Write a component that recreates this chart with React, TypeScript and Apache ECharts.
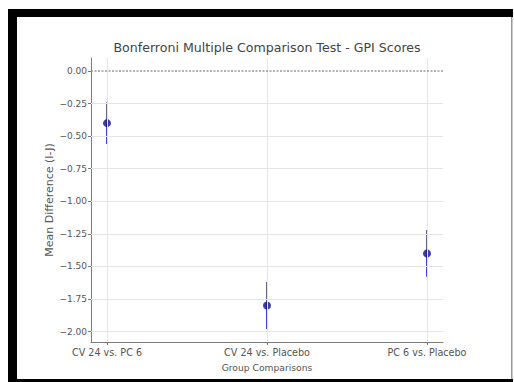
import React, { useEffect, useRef } from "react";
import * as echarts from "echarts";

const categories = ["CV 24 vs. PC 6", "CV 24 vs. Placebo", "PC 6 vs. Placebo"];
const meanDiff = [-0.4, -1.8, -1.4];
const lowerCI = [-0.56, -1.98, -1.58];
const upperCI = [-0.24, -1.62, -1.22];
const yTicks = [0, -0.25, -0.5, -0.75, -1.0, -1.25, -1.5, -1.75, -2.0];
const xTicks = [0, 1, 2];

const FONT = "DejaVu Sans";

export default function App() {
  const ref = useRef<HTMLDivElement>(null);
  useEffect(() => {
    if (!ref.current) return;
    const chart = echarts.init(ref.current, undefined, { renderer: "svg" });
    const fmtY = (v: number) => (Math.abs(v) < 1e-9 ? "0.00" : v.toFixed(2).replace("-", "\u2212"));
    const gridLines: any[] = [];
    yTicks.forEach((v) => {
      if (v !== 0) gridLines.push({ yAxis: v, lineStyle: { color: "#e6e6e6", width: 1, type: "solid" } });
    });
    xTicks.forEach((v) => gridLines.push({ xAxis: v, lineStyle: { color: "#e6e6e6", width: 1, type: "solid" } }));

    const option: any = {
      animation: false,
      backgroundColor: "#ffffff",
      grid: { left: 91, right: 71, top: 58, bottom: 40 },
      xAxis: {
        type: "value",
        min: -0.1,
        max: 2.1,
        splitLine: { show: false },
        axisLine: { show: true, onZero: false, lineStyle: { color: "#7a7a7a", width: 1 } },
        axisTick: { show: true, customValues: xTicks, length: 3, lineStyle: { color: "#7a7a7a" } },
        axisLabel: {
          customValues: xTicks,
          formatter: (v: number) => categories[Math.round(v)],
          fontFamily: FONT,
          fontSize: 9.6,
          color: "#555",
          margin: 5,
        },
        name: "Group Comparisons",
        nameLocation: "middle",
        nameGap: 21,
        nameTextStyle: { fontFamily: FONT, fontSize: 9.2, color: "#555" },
      },
      yAxis: {
        type: "value",
        min: -2.08,
        max: 0.1,
        splitLine: { show: false },
        axisLine: { show: true, onZero: false, lineStyle: { color: "#7a7a7a", width: 1 } },
        axisTick: { show: true, customValues: yTicks, length: 3, lineStyle: { color: "#7a7a7a" } },
        axisLabel: {
          customValues: yTicks,
          formatter: fmtY,
          fontFamily: FONT,
          fontSize: 9,
          color: "#555",
          margin: 4,
        },
        name: "Mean Difference (I-J)",
        nameLocation: "middle",
        nameGap: 36,
        nameMoveOverlap: false,
        nameTextStyle: { fontFamily: FONT, fontSize: 11, color: "#555" },
      },
      graphic: [
        { type: "rect", shape: { x: 8, y: 9, width: 9, height: 373 }, style: { fill: "#000" } },
        { type: "rect", shape: { x: 8, y: 9, width: 505, height: 8 }, style: { fill: "#000" } },
        { type: "rect", shape: { x: 8, y: 379, width: 505, height: 3 }, style: { fill: "#000" } },
        { type: "rect", shape: { x: 511, y: 17, width: 1.5, height: 362 }, style: { fill: "#999" } },
        {
          type: "text",
          x: 267,
          y: 47,
          style: {
            text: "Bonferroni Multiple Comparison Test - GPI Scores",
            fontFamily: FONT,
            fontSize: 12.6,
            fill: "#444",
            textAlign: "center",
            textVerticalAlign: "middle",
          },
        },
      ],
      series: [
        {
          type: "line",
          data: [],
          z: 1,
          silent: true,
          markLine: {
            silent: true,
            symbol: "none",
            label: { show: false },
            data: gridLines,
          },
        },
        {
          type: "line",
          data: [],
          z: 2,
          silent: true,
          markLine: {
            silent: true,
            symbol: "none",
            label: { show: false },
            data: [{ yAxis: 0, lineStyle: { color: "#9a9a9a", width: 1.5, type: [2, 1.5] } }],
          },
        },
        {
          type: "custom",
          z: 3,
          data: categories.map((_, i) => [i, lowerCI[i], upperCI[i], meanDiff[i]]),
          renderItem: (params: any, api: any) => {
            const x = api.value(0);
            const pLo = api.coord([x, api.value(1)]);
            const pHi = api.coord([x, api.value(2)]);
            const pM = api.coord([x, api.value(3)]);
            return {
              type: "group",
              children: [
                { type: "line", shape: { x1: pHi[0], y1: pHi[1], x2: pM[0], y2: pM[1] }, style: { stroke: "#55557a", lineWidth: 1.8 } },
                { type: "line", shape: { x1: pM[0], y1: pM[1], x2: pLo[0], y2: pLo[1] }, style: { stroke: "#2b2be0", lineWidth: 1.8 } },
              ],
            };
          },
        },
        {
          type: "scatter",
          z: 4,
          symbol: "circle",
          symbolSize: 8,
          itemStyle: { color: "#0c0c8c" },
          data: categories.map((_, i) => [i, meanDiff[i]]),
        },
      ],
    };
    chart.setOption(option);
    return () => chart.dispose();
  }, []);
  return (
    <div
      ref={ref}
      style={{ position: "fixed", left: 0, top: 0, width: 514, height: 382, background: "#fff" }}
    />
  );
}
